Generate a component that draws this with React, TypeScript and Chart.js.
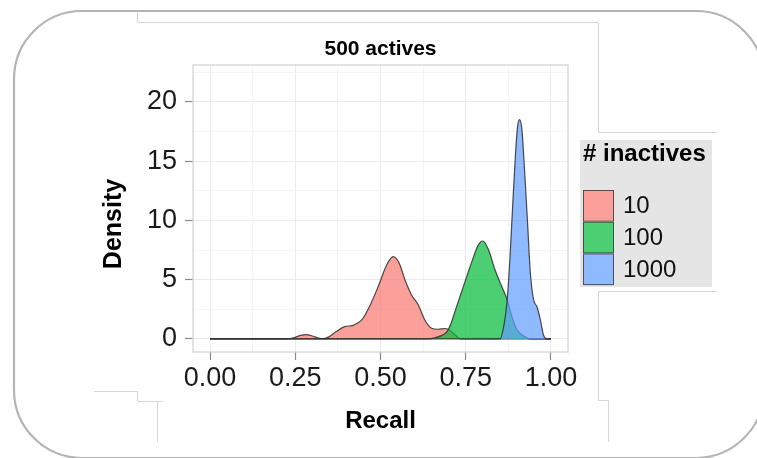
import React, { useEffect, useRef } from "react";
import { Chart, registerables } from "chart.js";

Chart.register(...registerables);

const FONT = "'Liberation Sans', Arial, Helvetica, sans-serif";

const chartTitle = "500 actives";
const xAxisTitle = "Recall";
const yAxisTitle = "Density";
const legendTitle = "# inactives";
const seriesLabels = ["10", "100", "1000"];

const xMajorTicks = [0, 0.25, 0.5, 0.75, 1];
const xMinorTicks = [0.125, 0.375, 0.625, 0.875];
const yMajorTicks = [0, 5, 10, 15, 20];
const yMinorTicks = [2.5, 7.5, 12.5, 17.5, 22.5];
const xRange = [-0.05, 1.05];
const yRange = [-1.1, 23.1];

// 10 inactives
const recall10 = [0, 0.22, 0.245, 0.265, 0.282, 0.3, 0.318, 0.333, 0.35, 0.37, 0.395, 0.42, 0.445, 0.47, 0.495, 0.518, 0.537, 0.555, 0.572, 0.591, 0.611, 0.63, 0.65, 0.669, 0.69, 0.705, 0.718, 0.735, 1.0];
const density10 = [0, 0, 0.1, 0.3, 0.37, 0.25, 0.08, 0.02, 0.2, 0.62, 1.04, 1.15, 1.6, 2.87, 4.55, 6.24, 6.94, 6.38, 4.97, 3.71, 2.87, 1.6, 0.9, 0.82, 0.88, 0.7, 0.35, 0, 0];

// 100 inactives
const recall100 = [0, 0.64, 0.66, 0.68, 0.695, 0.707, 0.72, 0.743, 0.768, 0.787, 0.8, 0.817, 0.836, 0.856, 0.872, 0.885, 0.9, 0.92, 0.94, 1.0];
const density100 = [0, 0, 0.1, 0.3, 0.62, 1.3, 2.45, 4.41, 6.52, 7.93, 8.26, 7.5, 5.82, 4.41, 3.29, 1.9, 0.8, 0.25, 0, 0];

// 1000 inactives
const recall1000 = [0, 0.85, 0.863, 0.872, 0.88, 0.888, 0.896, 0.902, 0.908, 0.915, 0.922, 0.931, 0.939, 0.949, 0.959, 0.969, 0.978, 0.987, 1.0];
const density1000 = [0, 0, 1.32, 3.43, 6.94, 11.4, 15.6, 17.9, 18.5, 17.6, 14.5, 10.0, 5.8, 3.29, 2.72, 1.6, 0.34, 0, 0];

const fillColors = ["rgba(248,118,109,0.7)", "rgba(0,186,56,0.7)", "rgba(97,156,255,0.7)"];

const isMajor = (v: number, step: number) => Math.abs(v / step - Math.round(v / step)) < 1e-6;

const toPoints = (xs: number[], ys: number[]) => xs.map((x, i) => ({ x, y: ys[i] }));

const framePlugin = {
  id: "frame",
  beforeDraw(chart: any) {
    const ctx = chart.ctx;
    ctx.save();
    // outer rounded frame
    ctx.strokeStyle = "#b4b4b4";
    ctx.lineWidth = 2.2;
    ctx.beginPath();
    const L = 14, T = 11, R = 764, B = 458, r = 68;
    ctx.moveTo(L + r, T);
    ctx.arcTo(R, T, R, B, r);
    ctx.arcTo(R, B, L, B, r);
    ctx.arcTo(L, B, L, T, r);
    ctx.arcTo(L, T, R, T, r);
    ctx.closePath();
    ctx.stroke();
    // thin slice lines
    ctx.strokeStyle = "#d6d6d6";
    ctx.lineWidth = 1;
    const paths = [
      [[137.5, 12], [137.5, 22.5], [598.5, 22.5], [598.5, 132.5], [717, 132.5]],
      [[717, 291.5], [598.5, 291.5], [598.5, 400.5], [608.5, 400.5], [608.5, 442]],
      [[94, 391.5], [137.5, 391.5], [137.5, 401.5], [163, 401.5]],
      [[157.5, 401.5], [157.5, 442]],
    ];
    for (const p of paths) {
      ctx.beginPath();
      ctx.moveTo(p[0][0], p[0][1]);
      for (let i = 1; i < p.length; i++) ctx.lineTo(p[i][0], p[i][1]);
      ctx.stroke();
    }
    ctx.restore();
  },
  afterDatasetsDraw(chart: any) {
    const { ctx, chartArea } = chart;
    ctx.save();
    ctx.strokeStyle = "#d4d4d4";
    ctx.lineWidth = 1.3;
    ctx.strokeRect(chartArea.left, chartArea.top, chartArea.right - chartArea.left, chartArea.bottom - chartArea.top);
    ctx.restore();
  },
  afterDraw(chart: any) {
    const ctx = chart.ctx;
    ctx.save();
    ctx.translate(114, 224);
    ctx.rotate(-Math.PI / 2);
    ctx.fillStyle = "#000";
    ctx.font = `bold 25px ${FONT}`;
    ctx.textAlign = "center";
    ctx.textBaseline = "middle";
    ctx.fillText(yAxisTitle, 0, 0);
    ctx.restore();
  },
};

const legendPlugin = {
  id: "ggLegend",
  afterDraw(chart: any) {
    const ctx = chart.ctx;
    const ds = chart.data.datasets;
    ctx.save();
    const bx = 580, by = 140, bw = 132, bh = 147;
    ctx.fillStyle = "#e5e5e5";
    ctx.fillRect(bx, by, bw, bh);
    ctx.fillStyle = "#000";
    ctx.font = `bold 24px ${FONT}`;
    ctx.textBaseline = "alphabetic";
    ctx.textAlign = "left";
    ctx.fillText(legendTitle, 583, 161);
    const kx = 583, ky = 190, kw = 31, kh = 31.7;
    ds.forEach((d: any, i: number) => {
      const y = ky + i * kh;
      ctx.fillStyle = "#ffffff";
      ctx.fillRect(kx, y, kw, kh);
      ctx.fillStyle = d.backgroundColor;
      ctx.fillRect(kx, y, kw, kh);
      ctx.strokeStyle = "rgba(60,60,60,0.85)";
      ctx.lineWidth = 1;
      ctx.strokeRect(kx + 0.5, y + 0.5, kw - 1, kh - 1);
      ctx.fillStyle = "#111";
      ctx.font = `24px ${FONT}`;
      ctx.textBaseline = "middle";
      ctx.fillText(d.label, 623, y + kh / 2 + 1);
    });
    ctx.restore();
  },
};

export default function App() {
  const ref = useRef<HTMLCanvasElement | null>(null);
  useEffect(() => {
    if (!ref.current) return;
    const xs = [recall10, recall100, recall1000];
    const ys = [density10, density100, density1000];
    const chart = new Chart(ref.current, {
      type: "line",
      data: {
        datasets: seriesLabels.map((label, i) => ({
          label,
          data: toPoints(xs[i], ys[i]),
          backgroundColor: fillColors[i],
          borderColor: "rgba(45,45,45,0.85)",
          borderWidth: 1.2,
          fill: "origin",
          pointRadius: 0,
          cubicInterpolationMode: "monotone",
          order: 3 - i,
        })),
      },
      options: {
        responsive: false,
        animation: false,
        events: [],
        layout: { padding: { left: 0, right: 189, top: 0, bottom: 0 } },
        plugins: {
          legend: { display: false },
          tooltip: { enabled: false },
          title: {
            display: true,
            text: chartTitle,
            fullSize: false,
            color: "#000",
            font: { family: FONT, size: 21, weight: "bold", lineHeight: 1.2 },
            padding: { top: 36.9, bottom: 2.9 },
          },
        },
        scales: {
          x: {
            type: "linear",
            min: xRange[0],
            max: xRange[1],
            afterBuildTicks: (s: any) => {
              s.ticks = [...xMajorTicks, ...xMinorTicks].sort((a, b) => a - b).map((v) => ({ value: v }));
            },
            afterFit: (s: any) => {
              s.height = 106;
            },
            ticks: {
              autoSkip: false,
              maxRotation: 0,
              padding: 5.5,
              color: "#1a1a1a",
              font: { family: FONT, size: 27, lineHeight: 1 },
              callback: (v: any) => (isMajor(Number(v), 0.25) ? Number(v).toFixed(2) : ""),
            },
            grid: {
              color: (c: any) => (isMajor(c.tick.value, 0.25) ? "#ebebeb" : "#f4f4f4"),
              lineWidth: 1,
              tickLength: 8,
              tickColor: (c: any) => (isMajor(c.tick.value, 0.25) ? "#8a8a8a" : "rgba(0,0,0,0)"),
              tickWidth: 1.2,
            },
            border: { display: false },
            title: {
              display: true,
              text: xAxisTitle,
              color: "#000",
              font: { family: FONT, size: 24, weight: "bold", lineHeight: 1 },
              padding: { top: 0, bottom: 24.5 },
            },
          },
          y: {
            type: "linear",
            min: yRange[0],
            max: yRange[1],
            afterBuildTicks: (s: any) => {
              s.ticks = [...yMajorTicks, ...yMinorTicks].sort((a, b) => a - b).map((v) => ({ value: v }));
            },
            afterFit: (s: any) => {
              s.width = 193;
            },
            ticks: {
              autoSkip: false,
              padding: 8,
              color: "#1a1a1a",
              font: { family: FONT, size: 27, lineHeight: 1 },
              callback: (v: any) => (isMajor(Number(v), 5) ? String(v) : ""),
            },
            grid: {
              color: (c: any) => (isMajor(c.tick.value, 5) ? "#ebebeb" : "#f4f4f4"),
              lineWidth: 1,
              tickLength: 8,
              tickColor: (c: any) => (isMajor(c.tick.value, 5) ? "#8a8a8a" : "rgba(0,0,0,0)"),
              tickWidth: 1.2,
            },
            border: { display: false },
            title: { display: false },
          },
        },
      } as any,
      plugins: [framePlugin, legendPlugin],
    });
    return () => chart.destroy();
  }, []);
  return (
    <div style={{ position: "absolute", left: 0, top: 0, width: 757, height: 458 }}>
      <canvas ref={ref} width={757} height={458} style={{ display: "block" }} />
    </div>
  );
}
